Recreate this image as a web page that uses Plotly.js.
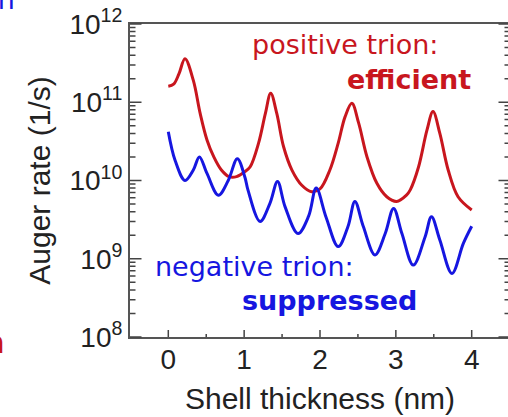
<!DOCTYPE html>
<html>
<head>
<meta charset="utf-8">
<script src="https://cdn.plot.ly/plotly-3.0.1.min.js"></script>
<style>
  html, body { margin: 0; padding: 0; overflow: hidden; background: #fff; }
  #chart { width: 510px; height: 417px; }
</style>
</head>
<body>
<div id="chart"></div>
<script>
// Auger rate vs. shell thickness for positive and negative trions
const shellPos = [0.00, 0.07, 0.14, 0.22, 0.33, 0.42, 0.51, 0.60, 0.70, 0.80, 0.90, 1.01, 1.08, 1.19, 1.28, 1.35,
                  1.43, 1.52, 1.63, 1.76, 1.89, 2.00, 2.13, 2.24, 2.33, 2.42, 2.51, 2.62, 2.75, 2.88, 3.01, 3.14,
                  3.19, 3.30, 3.41, 3.49, 3.58, 3.69, 3.82, 4.00];
const ratePos  = [1.6e11, 1.7e11, 2.3e11, 3.6e11, 1.9e11, 7.2e10, 3.3e10, 2.0e10, 1.36e10, 1.12e10, 1.12e10, 1.3e10, 1.5e10, 3.0e10, 7.2e10, 1.3e11,
                  7.2e10, 2.7e10, 1.36e10, 8.7e9, 7.2e9, 7.8e9, 1.36e10, 3.0e10, 6.5e10, 9.7e10, 5.4e10, 2.0e10, 9.2e9, 6.2e9, 5.4e9, 6.5e9,
                  7.6e9, 1.5e10, 4.4e10, 7.6e10, 4.0e10, 1.36e10, 6.2e9, 4.2e9];

const shellNeg = [0.00, 0.09, 0.22, 0.33, 0.41, 0.51, 0.66, 0.79, 0.91, 1.01, 1.05, 1.21, 1.34, 1.44, 1.54, 1.71,
                  1.85, 1.95, 2.08, 2.24, 2.37, 2.46, 2.57, 2.725, 2.86, 2.97, 3.08, 3.23, 3.385, 3.47, 3.58, 3.74,
                  3.89, 4.00];
const rateNeg  = [4.2e10, 1.8e10, 1.0e10, 1.36e10, 2.0e10, 1.23e10, 6.5e9, 1.0e10, 1.9e10, 1.1e10, 7.6e9, 3.0e9, 5.1e9, 9.7e9, 4.6e9, 2.1e9,
                  3.5e9, 8.0e9, 3.4e9, 1.43e9, 2.6e9, 5.4e9, 2.6e9, 1.12e9, 2.1e9, 4.4e9, 2.1e9, 8.3e8, 1.9e9, 3.45e9, 1.74e9, 6.5e8,
                  1.57e9, 2.6e9];

const xTickVals = [0, 1, 2, 3, 4];
const xMinorVals = [0.5, 1.5, 2.5, 3.5];
const yTickVals = [1e8, 1e9, 1e10, 1e11, 1e12];
const yTickText = ['10<sup>8</sup>', '10<sup>9</sup>', '10<sup>10</sup>', '10<sup>11</sup>', '10<sup>12</sup>'];
const yMinorDigits = [2, 3, 4, 5, 6, 7, 8, 9];

const X_RANGE = [-0.505, 4.505];
const Y_RANGE = [8, 12];

const RED = '#c8161e';
const BLUE = '#1616e0';
const TICK = '#444';
const AXIS_FONT = 'Liberation Sans, Arial, sans-serif';
const NOTE_FONT = 'DejaVu Sans, Verdana, sans-serif';

// minor log ticks: 2..9 within every decade shown
const yMinorVals = yTickVals.slice(0, -1).flatMap(d => yMinorDigits.map(m => m * d));

// inward tick marks along the frame, as head-less annotation arrows
const yFrac = v => (Math.log10(v) - Y_RANGE[0]) / (Y_RANGE[1] - Y_RANGE[0]);
const xFrac = v => (v - X_RANGE[0]) / (X_RANGE[1] - X_RANGE[0]);
function tickArrow(x, y, ax, ay) {
  return { xref: 'paper', yref: 'paper', x: x, y: y, axref: 'pixel', ayref: 'pixel', ax: ax, ay: ay,
           text: ' ', font: { size: 1 }, borderpad: 0, showarrow: true, arrowhead: 0, standoff: 0,
           arrowwidth: 1.5, arrowcolor: TICK };
}
const yTicks = (vals, len) => vals.flatMap(v => [tickArrow(0, yFrac(v), len, 0), tickArrow(1, yFrac(v), -len, 0)]);
const xTicks = (vals, len) => vals.map(v => tickArrow(xFrac(v), 0, 0, -len));

const traces = [
  { x: shellPos, y: ratePos, mode: 'lines', name: 'positive trion',
    line: { color: RED, width: 3, shape: 'spline', smoothing: 1 } },
  { x: shellNeg, y: rateNeg, mode: 'lines', name: 'negative trion',
    line: { color: BLUE, width: 3, shape: 'spline', smoothing: 1 } }
];

const textNotes = [
  { xref: 'paper', yref: 'paper', x: 0.567, y: 0.936, xanchor: 'center', yanchor: 'middle', showarrow: false,
    text: 'positive trion:', font: { family: NOTE_FONT, size: 27, color: RED } },
  { xref: 'paper', yref: 'paper', x: 0.7355, y: 0.822, xanchor: 'center', yanchor: 'middle', showarrow: false,
    text: '<b>efficient</b>', font: { family: NOTE_FONT, size: 27, color: RED } },
  { xref: 'paper', yref: 'paper', x: 0.328, y: 0.2246, xanchor: 'center', yanchor: 'middle', showarrow: false,
    text: 'negative trion:', font: { family: NOTE_FONT, size: 27, color: BLUE } },
  { xref: 'paper', yref: 'paper', x: 0.526, y: 0.118, xanchor: 'center', yanchor: 'middle', showarrow: false,
    text: '<b>suppressed</b>', font: { family: NOTE_FONT, size: 27, color: BLUE } },
  // labels of the neighbouring panel, cut by the left edge
  { xref: 'paper', yref: 'paper', x: -0.2974, y: 1.0767, xanchor: 'right', yanchor: 'middle', showarrow: false,
    text: 'trion', font: { family: NOTE_FONT, size: 27, color: BLUE } },
  { xref: 'paper', yref: 'paper', x: -0.3237, y: -0.016, xanchor: 'right', yanchor: 'middle', showarrow: false,
    text: 'trion', font: { family: NOTE_FONT, size: 30, color: RED } }
];

const layout = {
  width: 510, height: 417,
  margin: { l: 130, r: 0, t: 24, b: 80 },
  paper_bgcolor: '#fff', plot_bgcolor: '#fff',
  showlegend: false,
  xaxis: {
    range: X_RANGE,
    tickmode: 'array', tickvals: xTickVals,
    ticks: '',
    showline: true, linecolor: '#555', linewidth: 2, mirror: true,
    showgrid: false, zeroline: false,
    ticklabelstandoff: -4,
    tickfont: { family: AXIS_FONT, size: 28, color: '#222' },
    title: { text: '\u00a0\u00a0\u00a0Shell thickness (nm)', font: { family: AXIS_FONT, size: 30, color: '#222' }, standoff: 14 }
  },
  yaxis: {
    type: 'log', range: Y_RANGE,
    tickmode: 'array', tickvals: yTickVals, ticktext: yTickText,
    ticks: '',
    showline: true, linecolor: '#555', linewidth: 2, mirror: true,
    showgrid: false, zeroline: false,
    tickfont: { family: AXIS_FONT, size: 28, color: '#222' },
    title: { text: 'Auger rate (1/s)', font: { family: AXIS_FONT, size: 30, color: '#222' }, standoff: 10 }
  },
  annotations: [
    ...textNotes,
    ...yTicks(yTickVals, 12),
    ...yTicks(yMinorVals, 6),
    ...xTicks(xTickVals, 8),
    ...xTicks(xMinorVals, 4)
  ]
};

Plotly.newPlot('chart', traces, layout, { staticPlot: true, displayModeBar: false });
</script>
</body>
</html>
